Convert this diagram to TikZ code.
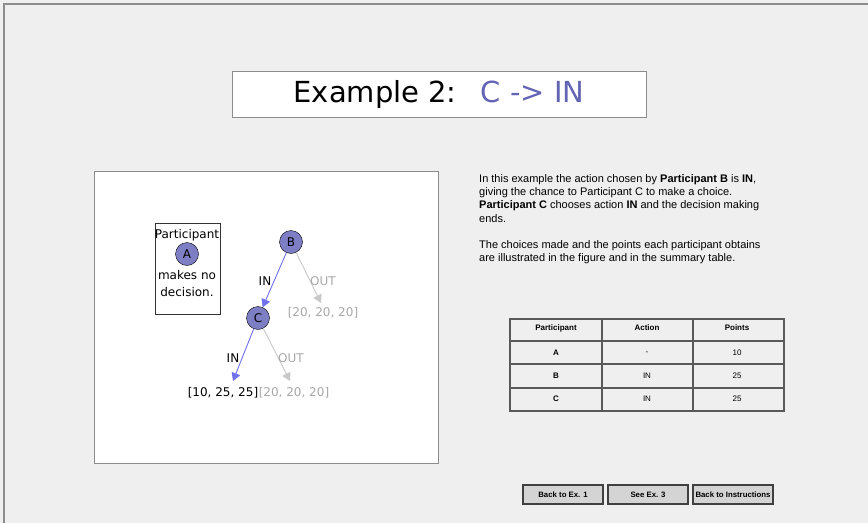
\documentclass[tikz,border=0pt]{standalone}
\usepackage{fontspec}
\setmainfont{DejaVu Sans}
\newfontfamily\arialfont{Liberation Sans}
\usetikzlibrary{arrows.meta}

\definecolor{bgcol}{RGB}{239,239,239}
\definecolor{framecol}{RGB}{140,140,140}
\definecolor{nodefill}{RGB}{126,126,196}
\definecolor{inblue}{RGB}{112,112,240}
\definecolor{outgray}{RGB}{200,200,200}
\definecolor{outtext}{RGB}{168,168,168}
\definecolor{titleblue}{RGB}{100,100,180}
\definecolor{btnfill}{RGB}{212,212,212}

\begin{document}
\begin{tikzpicture}[x=1pt,y=-1pt,
  player/.style={circle,draw=black,fill=nodefill,minimum size=23pt,inner sep=0pt,font=\fontsize{12}{14}\selectfont},
  treetext/.style={font=\fontsize{12}{14}\selectfont,inner sep=0pt},
  inarrow/.style={inblue,line width=0.9pt,-{Triangle[length=8pt,width=9pt]}},
  outarrow/.style={outgray,line width=0.9pt,-{Triangle[length=8pt,width=9pt]}},
  tableline/.style={draw=black!65,line width=1.1pt},
  cell/.style={font=\arialfont\fontsize{8}{9}\selectfont,inner sep=0pt},
  button/.style={draw=black!75,fill=btnfill,line width=1.2pt,minimum width=80pt,minimum height=19pt,inner sep=0pt,font=\arialfont\bfseries\fontsize{7.8}{9}\selectfont}]

  % Background and outer frame
  \fill[bgcol] (0,0) rectangle (868,523);
  \useasboundingbox (0,0) rectangle (868,523);
  \draw[framecol,line width=1.5pt] (4,523) -- (4,4) -- (868,4);

  % Title
  \node[draw=black!45,fill=white,minimum width=414pt,minimum height=46pt,inner sep=0pt,
        font=\fontsize{29}{34}\selectfont] (title) at (439,94)
        {Example 2:\hspace{24pt}\textcolor{titleblue}{C -> IN}};

  % Figure panel
  \draw[framecol,fill=white] (94,171) rectangle (438,463);

  % Participant A box
  \node[draw=black!80,fill=white,minimum width=65pt,minimum height=91pt] (boxA) at (187.5,268.5) {};
  \node[treetext] (partA) at (187,235) {Participant};
  \node[player] (A) at (187,254) {A};
  \node[treetext,align=center,font=\fontsize{12}{17}\selectfont] (nodec) at (187,283.5) {makes no\\decision.};

  % Decision tree
  \node[player] (B) at (291,242) {B};
  \node[player] (C) at (258,318) {C};
  \coordinate (outB) at (321,303);
  \coordinate (inC) at (233,381);
  \coordinate (outC) at (290,381);

  \draw[outarrow] (B) -- (outB);
  \draw[inarrow] (B) -- (C);
  \draw[outarrow] (C) -- (outC);
  \draw[inarrow] (C) -- (inC);

  \node[treetext] (inlblB) at (265,281) {IN};
  \node[treetext,text=outtext] (outlblB) at (323,281) {OUT};
  \node[treetext] (inlblC) at (233,358) {IN};
  \node[treetext,text=outtext] (outlblC) at (291,358) {OUT};

  \node[treetext,text=outtext] (payB) at (323,313) {[20, 20, 20]};
  \node[treetext] (payCin) at (223,393) {[10, 25, 25]};
  \node[treetext,text=outtext] (payCout) at (294,393) {[20, 20, 20]};

  % Explanation
  \node[anchor=north west,align=left,inner sep=0pt,font=\arialfont\fontsize{11}{13.3}\selectfont] (expl) at (479,174)
  {In this example the action chosen by \textbf{Participant B} is \textbf{IN},\\
   giving the chance to Participant C to make a choice.\\
   \textbf{Participant C} chooses action \textbf{IN} and the decision making\\
   ends.\\[13.3pt]
   The choices made and the points each participant obtains\\
   are illustrated in the figure and in the summary table.};

  % Summary table
  \draw[tableline] (510,319) rectangle (784,411);
  \foreach \x in {602,693}
    \draw[tableline] (\x,319) -- (\x,411);
  \foreach \y in {341,364,388}
    \draw[tableline] (510,\y) -- (784,\y);

  \node[cell,font=\arialfont\bfseries\fontsize{8}{9}\selectfont] (hpart) at (556,328) {Participant};
  \node[cell,font=\arialfont\bfseries\fontsize{8}{9}\selectfont] (hact) at (647,328) {Action};
  \node[cell,font=\arialfont\bfseries\fontsize{8}{9}\selectfont] (hpts) at (737,328) {Points};
  \foreach \who/\act/\pts [count=\i] in {A/-/10, B/IN/25, C/IN/25} {
    \node[cell,font=\arialfont\bfseries\fontsize{8}{9}\selectfont] (part\i) at (556,330+23*\i) {\who};
    \node[cell] (act\i) at (647,330+23*\i) {\act};
    \node[cell] (pts\i) at (737,330+23*\i) {\pts};
  }

  % Buttons
  \node[button] (back1) at (563,494.5) {Back to Ex. 1};
  \node[button] (see3) at (648,494.5) {See Ex. 3};
  \node[button] (backins) at (733,494.5) {Back to Instructions};

\end{tikzpicture}
\end{document}
